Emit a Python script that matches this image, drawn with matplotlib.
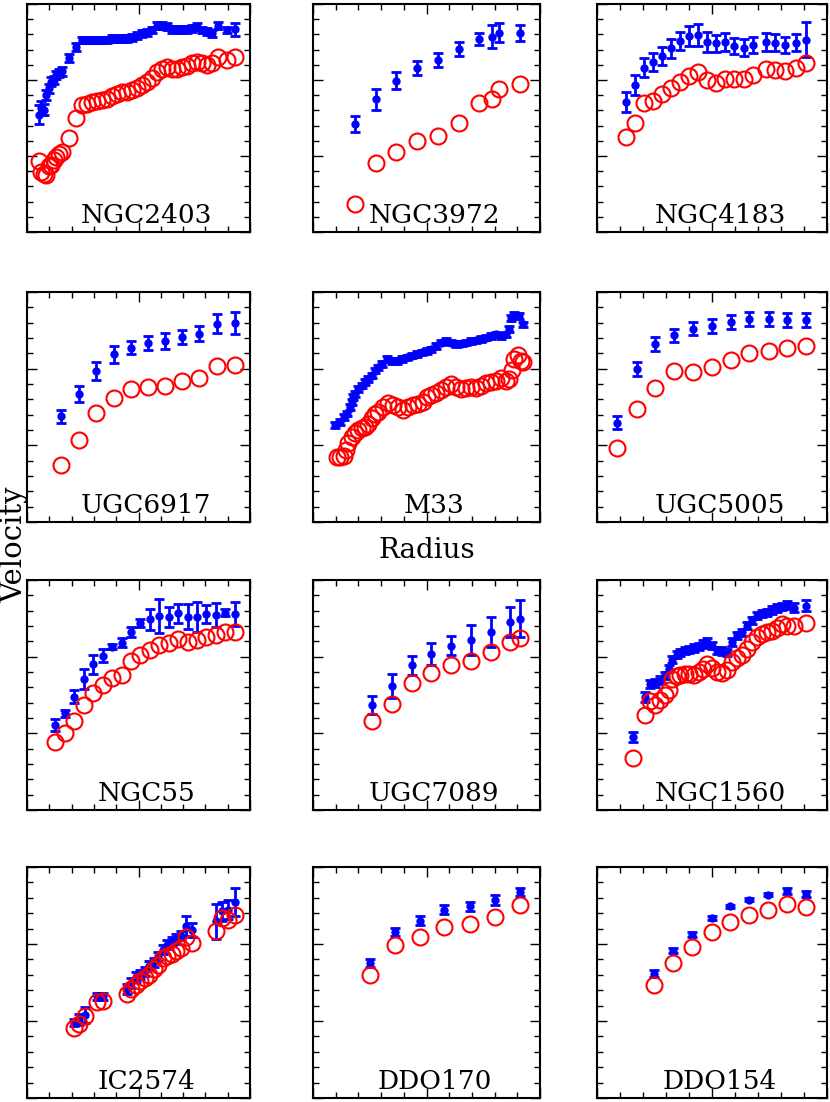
import matplotlib
matplotlib.use("Agg")
import matplotlib.pyplot as plt
from matplotlib.ticker import MultipleLocator

# ---- data (radius / velocity, arbitrary units) ----
# observed velocity (blue, with errors) and model velocity (red circles)

ngc2403_r = [5.2, 6.3, 7.5, 8.7, 9.7, 10.7, 11.9, 13.1, 14.3, 15.7, 18.7, 22.1, 24.6, 26.9,
             29.1, 31.3, 33.6, 35.8, 38.1, 40.3, 42.5, 44.8, 47.0, 49.3, 51.5, 53.7, 56.0,
             58.2, 60.4, 62.7, 64.9, 67.2, 69.4, 71.6, 73.9, 76.1, 78.4, 80.6, 82.8, 85.8,
             89.6, 93.3]
ngc2403_v = [51.4, 54.3, 53.6, 60.1, 63.1, 66.0, 66.7, 68.9, 69.6, 70.4, 76.2, 81.3, 84.2, 84.2,
             84.2, 84.2, 84.2, 84.2, 85.0, 85.0, 85.0, 85.0, 85.4, 86.0, 87.2, 87.6, 88.6,
             90.4, 90.4, 90.1, 88.9, 88.9, 88.9, 88.9, 89.3, 90.1, 88.6, 87.9, 87.2, 90.4,
             88.6, 88.9]
ngc2403_e = [4.2, 3.0, 2.5, 2.0, 2.0, 2.0, 1.8, 1.8, 1.8, 1.8, 1.8, 1.8, 1.5, 1.5,
             1.5, 1.5, 1.5, 1.5, 1.5, 1.5, 1.5, 1.5, 1.5, 1.5, 1.5, 1.5, 1.5,
             1.5, 1.5, 1.5, 1.5, 1.5, 1.5, 1.5, 1.5, 1.5, 1.5, 1.5, 1.5, 1.5,
             1.5, 2.8]
ngc2403_m = [31.2, 26.5, 25.3, 25.1, 28.8, 29.5, 31.5, 32.8, 34.0, 35.3, 41.2, 49.9, 55.8, 56.3,
             57.0, 57.4, 57.9, 58.5, 59.7, 60.6, 61.3, 61.6, 62.2, 63.2, 64.6, 66.0, 67.5,
             70.2, 71.6, 72.3, 71.5, 71.4, 72.3, 73.0, 74.0, 74.7, 74.0, 73.3, 74.0, 76.9,
             75.5, 76.9]

ngc3972_r = [18.3, 27.6, 36.7, 45.7, 55.0, 64.1, 73.2, 78.7, 82.1, 91.3]
ngc3972_v = [47.4, 58.2, 66.4, 71.8, 75.5, 80.1, 84.7, 85.7, 87.4, 87.4]
ngc3972_e = [3.6, 4.5, 3.6, 3.1, 3.1, 3.1, 2.7, 5.0, 4.2, 3.5]
ngc3972_m = [12.3, 30.2, 34.9, 40.1, 41.9, 48.0, 56.5, 58.5, 62.6, 64.7]

ngc4183_r = [12.5, 16.4, 20.3, 24.4, 28.3, 32.1, 36.0, 40.1, 43.8, 47.7, 51.6, 55.8, 59.7,
             64.0, 68.0, 73.4, 77.5, 81.8, 86.5, 91.0]
ngc4183_v = [57.0, 64.4, 72.1, 74.6, 77.3, 80.5, 83.9, 86.1, 86.4, 83.4, 82.7, 83.4, 81.7,
             80.9, 82.0, 83.4, 83.1, 82.0, 83.1, 84.3]
ngc4183_e = [4.3, 4.5, 4.0, 3.8, 4.0, 4.0, 4.0, 4.4, 5.0, 4.3, 3.9, 3.9, 3.5,
             3.7, 3.7, 3.8, 3.9, 3.7, 3.8, 7.7]
ngc4183_m = [41.8, 47.9, 56.7, 57.5, 60.4, 63.3, 65.8, 68.5, 70.2, 66.7, 65.2, 67.3, 67.0,
             67.0, 68.8, 71.4, 71.0, 70.4, 72.1, 74.3]

ugc6917_r = [15.4, 23.3, 31.0, 38.8, 46.6, 54.3, 61.9, 69.6, 77.3, 85.2, 93.1]
ugc6917_v = [45.9, 55.5, 65.7, 72.9, 75.8, 77.8, 78.7, 80.4, 81.9, 86.2, 86.5]
ugc6917_e = [3.0, 3.5, 3.8, 3.8, 2.9, 2.9, 3.6, 2.9, 3.4, 4.1, 4.9]
ugc6917_m = [24.9, 35.5, 47.4, 53.9, 57.7, 58.7, 59.0, 61.3, 62.8, 67.7, 68.1]

m33_r = [9.8, 12.0, 13.5, 14.9, 16.1, 17.1, 17.8, 18.6, 20.0, 21.5, 23.0, 24.4, 25.9, 27.3,
         28.8, 30.3, 32.5, 34.6, 36.8, 39.0, 41.2, 43.4, 45.6, 47.8, 50.0, 52.2, 54.4, 56.6,
         58.8, 61.0, 63.2, 65.4, 67.5, 69.7, 71.9, 74.1, 76.3, 78.5, 80.7, 82.9, 85.1, 86.5,
         87.3, 88.7, 90.9, 92.4]
m33_v = [42.1, 43.5, 45.7, 47.1, 50.0, 52.2, 54.3, 55.7, 57.9, 59.3, 60.8, 62.2, 63.6, 65.8,
         67.2, 68.7, 70.8, 70.1, 70.1, 70.8, 71.6, 72.3, 73.0, 73.7, 74.4, 75.1, 76.6, 78.0,
         78.7, 78.0, 77.3, 77.6, 78.0, 78.7, 79.0, 79.5, 80.2, 80.9, 81.6, 80.9, 81.6, 83.8,
         88.8, 90.2, 89.5, 85.9]
m33_e = [1.2] * len(m33_v)
m33_rm = [10.5, 12.0, 13.5, 14.6, 15.6, 17.1, 18.6, 20.0, 21.5, 23.0, 24.4, 25.9, 27.3, 28.8,
          31.0, 33.2, 35.4, 37.6, 39.8, 42.0, 44.2, 46.3, 48.5, 50.0, 52.2, 54.4, 56.6, 58.8,
          61.0, 63.2, 65.4, 67.5, 69.7, 71.9, 74.1, 76.3, 78.5, 80.7, 82.9, 85.1, 86.5, 87.7,
          88.7, 90.2, 91.7, 92.4]
m33_m = [28.4, 28.2, 28.7, 31.3, 34.2, 37.1, 38.8, 39.9, 40.7, 41.4, 42.8, 45.0, 47.1, 47.8,
         50.0, 51.7, 50.7, 50.0, 48.6, 50.0, 50.7, 51.4, 52.2, 54.3, 55.0, 56.0, 57.2, 58.9,
         60.1, 58.6, 57.9, 58.3, 58.6, 58.3, 59.3, 60.3, 60.8, 61.5, 62.6, 61.5, 62.2, 66.1,
         70.8, 72.7, 70.1, 69.4]

ugc5005_r = [8.9, 17.2, 25.3, 33.6, 41.7, 49.9, 58.1, 66.3, 74.6, 82.8, 91.0]
ugc5005_v = [43.2, 66.5, 77.4, 81.1, 84.0, 85.2, 86.9, 88.1, 88.1, 87.9, 87.9]
ugc5005_e = [2.9, 2.9, 2.9, 2.9, 2.9, 2.9, 3.2, 3.1, 3.1, 3.1, 3.1]
ugc5005_m = [32.0, 49.3, 58.1, 65.8, 65.1, 67.5, 70.5, 73.4, 74.5, 75.7, 76.7]

ngc55_r = [12.7, 16.9, 21.2, 25.4, 29.7, 33.9, 38.1, 42.4, 46.6, 50.7, 55.1, 59.3, 63.6,
           67.8, 72.1, 76.3, 80.4, 84.8, 89.0, 93.3]
ngc55_v = [37.0, 42.0, 49.3, 57.0, 63.3, 67.0, 71.0, 72.8, 77.5, 81.2, 82.9, 84.3, 83.8,
           85.5, 84.1, 84.1, 85.2, 84.8, 85.8, 85.2]
ngc55_e = [2.5, 1.4, 2.9, 4.5, 4.2, 2.8, 1.2, 2.0, 2.2, 1.7, 4.6, 7.4, 4.3,
           4.0, 5.5, 6.5, 4.0, 5.1, 1.4, 5.1]
ngc55_m = [29.7, 33.3, 38.7, 45.7, 50.7, 54.3, 57.2, 58.7, 64.9, 67.4, 69.6, 71.7, 72.8,
           74.2, 73.2, 73.9, 75.4, 76.1, 77.5, 77.5]

ugc7089_r = [25.9, 34.8, 43.6, 52.2, 61.0, 69.6, 78.2, 86.7, 91.2]
ugc7089_v = [45.5, 53.8, 62.9, 67.9, 71.5, 74.0, 77.3, 81.6, 83.1]
ugc7089_e = [3.9, 5.3, 4.2, 4.8, 4.2, 6.5, 6.5, 6.5, 8.0]
ugc7089_m = [38.6, 46.2, 55.2, 59.7, 62.9, 65.0, 68.8, 73.0, 74.7]

ngc1560_r = [15.7, 20.8, 23.0, 25.3, 27.6, 29.4, 31.1, 32.8, 34.6, 36.3, 38.2, 40.1, 42.2,
             44.2, 46.2, 48.0, 49.9, 52.0, 54.2, 56.4, 58.6, 60.8, 62.9, 65.1, 67.3, 69.5,
             71.7, 73.8, 76.0, 78.2, 80.4, 82.6, 85.8, 91.0]
ngc1560_v = [31.8, 49.1, 54.9, 55.2, 56.6, 58.5, 61.4, 65.3, 67.6, 68.6, 69.4, 69.7, 70.4,
             71.1, 72.3, 73.0, 71.5, 69.4, 69.1, 68.6, 73.0, 75.9, 77.3, 80.2, 82.4, 84.5,
             85.5, 86.0, 87.0, 87.9, 88.4, 89.2, 87.9, 88.9]
ngc1560_e = [2.3, 2.0, 1.8, 1.8, 1.6, 1.6, 1.6, 1.6, 1.6, 1.6, 1.6, 1.6, 1.6,
             1.6, 1.8, 1.8, 1.6, 1.6, 1.6, 1.6, 1.6, 1.6, 1.6, 1.6, 1.6, 1.6,
             1.6, 1.6, 1.6, 1.6, 1.6, 1.6, 2.0, 2.2]
ngc1560_m = [22.7, 41.5, 47.4, 45.5, 47.7, 49.9, 52.0, 57.1, 58.1, 58.5, 59.0, 59.2, 58.5,
             60.0, 61.4, 63.6, 61.8, 60.0, 59.5, 60.7, 64.3, 66.2, 67.2, 69.8, 73.0, 75.1,
             76.6, 77.3, 78.0, 79.2, 80.9, 80.2, 80.2, 81.2]

ic2574_r = [21.3, 23.3, 25.8, 31.3, 34.3, 44.8, 46.7, 48.7, 50.7, 52.8, 54.9, 56.9, 58.8,
            60.9, 62.8, 64.8, 66.9, 69.1, 71.3, 74.0, 84.8, 87.5, 90.1, 93.3]
ic2574_v = [32.5, 33.9, 36.1, 44.0, 44.0, 47.2, 49.8, 52.4, 53.4, 54.8, 57.3, 58.7, 61.3,
            64.2, 66.4, 67.8, 68.8, 70.3, 74.3, 72.6, 76.5, 80.8, 81.5, 84.7]
ic2574_e = [1.5, 2.5, 3.5, 1.5, 1.5, 2.0, 2.0, 2.0, 2.0, 2.0, 2.0, 2.0, 2.0,
            2.0, 2.0, 2.0, 2.0, 2.0, 4.3, 3.0, 7.5, 4.0, 4.0, 6.0]
ic2574_m = [30.3, 32.2, 35.4, 41.4, 41.8, 45.2, 47.2, 49.1, 50.5, 51.9, 53.4, 55.8, 57.7,
            60.6, 61.6, 62.3, 63.5, 64.9, 69.7, 67.1, 72.2, 77.9, 77.2, 79.4]

ddo170_r = [24.9, 36.0, 47.1, 57.9, 69.0, 80.3, 91.2]
ddo170_v = [58.4, 71.9, 76.8, 81.5, 83.0, 85.6, 89.2]
ddo170_e = [1.7, 1.9, 1.9, 1.9, 1.9, 2.1, 1.9]
ddo170_m = [53.1, 66.1, 69.6, 73.9, 75.5, 78.4, 83.7]

ddo154_r = [24.8, 33.1, 41.5, 49.8, 58.0, 66.1, 74.5, 82.8, 90.9]
ddo154_v = [53.8, 63.8, 70.7, 77.9, 83.0, 85.9, 88.0, 89.6, 88.2]
ddo154_e = [1.4, 1.2, 1.0, 0.7, 0.6, 0.6, 0.7, 1.3, 1.4]
ddo154_m = [49.1, 58.4, 65.4, 71.7, 76.0, 79.1, 81.5, 83.8, 82.7]

# name, radius, v_obs, err, radius(model), v_model
panels = [
    ("NGC2403", ngc2403_r, ngc2403_v, ngc2403_e, ngc2403_r, ngc2403_m),
    ("NGC3972", ngc3972_r, ngc3972_v, ngc3972_e, ngc3972_r, ngc3972_m),
    ("NGC4183", ngc4183_r, ngc4183_v, ngc4183_e, ngc4183_r, ngc4183_m),
    ("UGC6917", ugc6917_r, ugc6917_v, ugc6917_e, ugc6917_r, ugc6917_m),
    ("M33", m33_r, m33_v, m33_e, m33_rm, m33_m),
    ("UGC5005", ugc5005_r, ugc5005_v, ugc5005_e, ugc5005_r, ugc5005_m),
    ("NGC55", ngc55_r, ngc55_v, ngc55_e, ngc55_r, ngc55_m),
    ("UGC7089", ugc7089_r, ugc7089_v, ugc7089_e, ugc7089_r, ugc7089_m),
    ("NGC1560", ngc1560_r, ngc1560_v, ngc1560_e, ngc1560_r, ngc1560_m),
    ("IC2574", ic2574_r, ic2574_v, ic2574_e, ic2574_r, ic2574_m),
    ("DDO170", ddo170_r, ddo170_v, ddo170_e, ddo170_r, ddo170_m),
    ("DDO154", ddo154_r, ddo154_v, ddo154_e, ddo154_r, ddo154_m),
]

# ---- layout (pixels of the 830x1102 canvas) ----
W, H = 830, 1102
col_left = [27, 313, 597]
col_width = [223, 227, 230]
row_top = [4, 292, 580, 867]
row_bottom = [232, 522, 810, 1098]

plt.rcParams["font.family"] = "DejaVu Serif"

fig = plt.figure(figsize=(W / 100, H / 100), dpi=100)

for i, (name, r, v, e, rm, vm) in enumerate(panels):
    row, col = divmod(i, 3)
    ax = fig.add_axes([col_left[col] / W, 1 - row_bottom[row] / H,
                       col_width[col] / W, (row_bottom[row] - row_top[row]) / H])

    ax.errorbar(r, v, yerr=e, fmt="o", color="blue", ms=5, elinewidth=2,
                capsize=3.5, capthick=2, zorder=2)
    ax.plot(rm, vm, "o", mfc="none", mec="red", mew=1.5, ms=11.5, zorder=3)

    ax.set_xlim(0, 100)
    ax.set_ylim(0, 100)
    ax.xaxis.set_major_locator(MultipleLocator(50))
    ax.xaxis.set_minor_locator(MultipleLocator(10))
    ax.yaxis.set_major_locator(MultipleLocator(100 / 3))
    ax.yaxis.set_minor_locator(MultipleLocator(100 / 15))
    ax.tick_params(which="both", direction="in", top=True, right=True,
                   labelbottom=False, labelleft=False, width=1)
    ax.tick_params(which="major", length=7)
    ax.tick_params(which="minor", length=4)
    for s in ax.spines.values():
        s.set_linewidth(1.5)

    ax.text(0.535, 0.04, name, transform=ax.transAxes, ha="center",
            va="baseline", fontsize=19)

fig.text(427 / W, 1 - 551 / H, "Radius", ha="center", va="center", fontsize=20)
fig.text(14 / W, 1 - 545 / H, "Velocity", ha="center", va="center",
         rotation=90, fontsize=21)

plt.savefig("out.png", dpi=100)
